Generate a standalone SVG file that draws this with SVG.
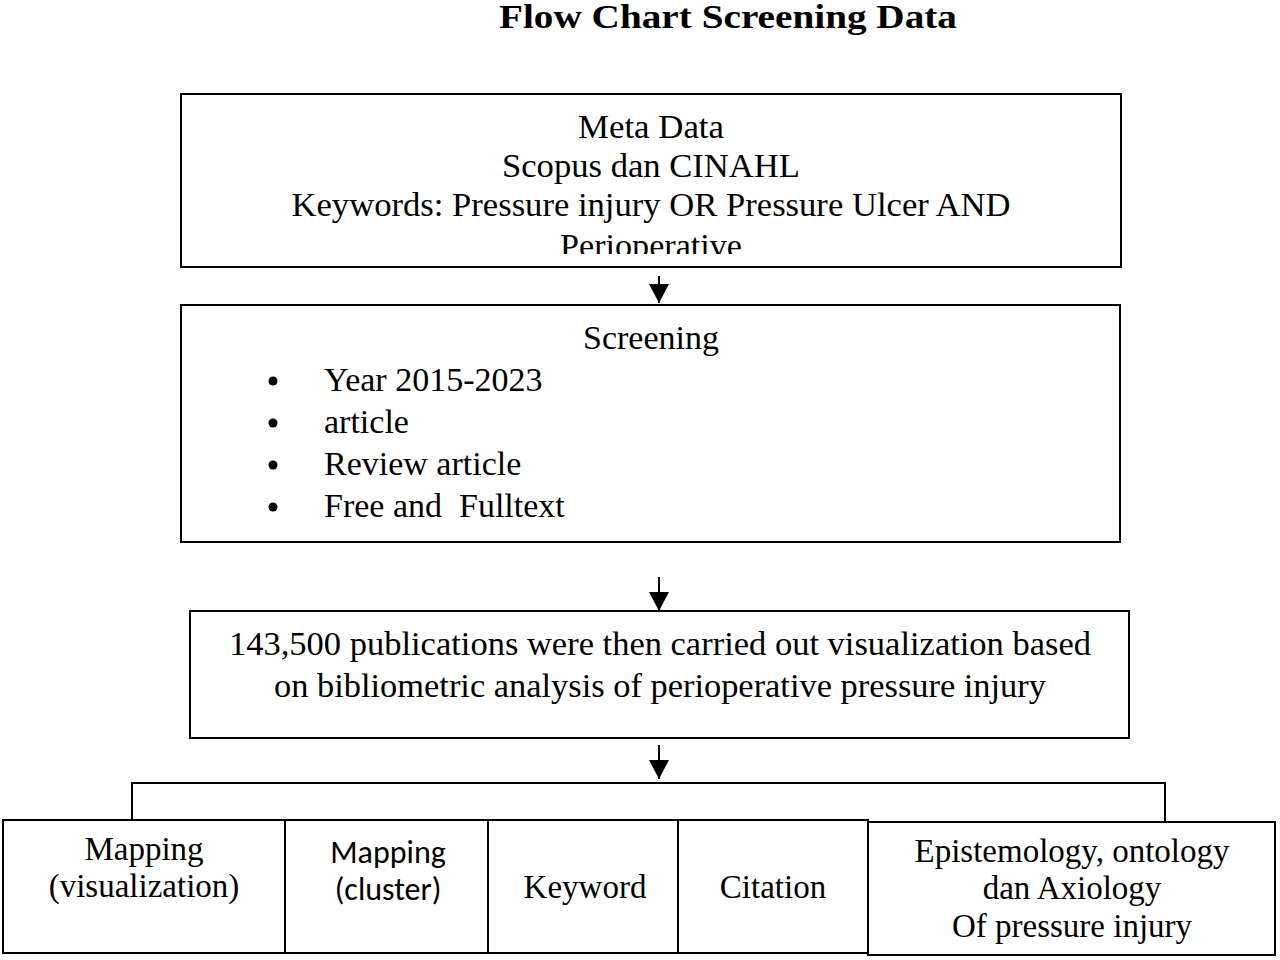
<svg xmlns="http://www.w3.org/2000/svg" width="1280" height="960" viewBox="0 0 1280 960">
<defs>
<style>
.box{fill:#fff;stroke:#000;stroke-width:2}
.t{font-family:"Liberation Serif","Times New Roman",serif;font-size:33px;fill:#000}
.m{font-size:34px}
.c{text-anchor:middle}
.s{font-family:Carlito,Calibri,"Liberation Sans",sans-serif;font-size:32px;fill:#000;text-anchor:middle}
.ln{stroke:#000;stroke-width:2;fill:none}
</style>
<marker id="ah" markerWidth="20" markerHeight="20" viewBox="0 0 20 20" refX="19" refY="10" orient="auto" markerUnits="userSpaceOnUse"><path d="M0,0 L19,10 L0,20 Z" fill="#000"/></marker>
<clipPath id="clip1"><rect x="182" y="95" width="938" height="159"/></clipPath>
</defs>
<rect width="1280" height="960" fill="#fff"/>
<text x="728" y="28" class="c" style="font-family:'Liberation Serif','Times New Roman',serif;font-size:34px;font-weight:bold" textLength="458" lengthAdjust="spacingAndGlyphs">Flow Chart Screening Data</text>

<g id="meta">
<rect class="box" x="181" y="94" width="940" height="173"/>
<g clip-path="url(#clip1)">
<text class="t c" x="651" y="138" textLength="146" lengthAdjust="spacingAndGlyphs">Meta Data</text>
<text class="t c" x="651" y="177" textLength="298" lengthAdjust="spacingAndGlyphs">Scopus dan CINAHL</text>
<text class="t c" x="651" y="216" textLength="719" lengthAdjust="spacingAndGlyphs">Keywords: Pressure injury OR Pressure Ulcer AND</text>
<text class="t c" x="651" y="257" textLength="182" lengthAdjust="spacingAndGlyphs">Perioperative</text>
</g>
</g>

<g id="screening">
<rect class="box" x="181" y="305" width="939" height="237"/>
<text class="t m c" x="651" y="349">Screening</text>
<circle cx="273" cy="381" r="4.5"/><text class="t m" x="324" y="391">Year 2015-2023</text>
<circle cx="273" cy="423" r="4.5"/><text class="t m" x="324" y="433">article</text>
<circle cx="273" cy="465" r="4.5"/><text class="t m" x="324" y="475">Review article</text>
<circle cx="273" cy="507" r="4.5"/><text class="t m" x="324" y="517" xml:space="preserve">Free and  Fulltext</text>
</g>

<g id="publications">
<rect class="box" x="190" y="611" width="939" height="127"/>
<text class="t c" x="660" y="655" textLength="862" lengthAdjust="spacingAndGlyphs">143,500 publications were then carried out visualization based</text>
<text class="t c" x="660" y="697" textLength="772" lengthAdjust="spacingAndGlyphs">on bibliometric analysis of perioperative pressure injury</text>
</g>

<g id="connectors">
<line class="ln" x1="659" y1="276" x2="659" y2="303" marker-end="url(#ah)"/>
<line class="ln" x1="659" y1="577" x2="659" y2="611" marker-end="url(#ah)"/>
<line class="ln" x1="659" y1="745" x2="659" y2="779" marker-end="url(#ah)"/>
<polyline class="ln" points="132,820 132,783 1165,783 1165,822"/>
</g>

<g id="mapping-vis">
<rect class="box" x="3" y="820" width="282" height="133"/>
<text class="t c" x="144" y="860">Mapping</text>
<text class="t c" x="144" y="897">(visualization)</text>
</g>
<g id="mapping-cluster">
<rect class="box" x="285" y="820" width="203" height="133"/>
<text class="s" x="388" y="863">Mapping</text>
<text class="s" x="388" y="900">(cluster)</text>
</g>
<g id="keyword">
<rect class="box" x="488" y="820" width="190" height="133"/>
<text class="t c" x="585" y="898">Keyword</text>
</g>
<g id="citation">
<rect class="box" x="678" y="820" width="190" height="133"/>
<text class="t c" x="773" y="898">Citation</text>
</g>
<g id="epistemology">
<rect class="box" x="868" y="822" width="407" height="133"/>
<text class="t c" x="1072" y="862">Epistemology, ontology</text>
<text class="t c" x="1072" y="899">dan Axiology</text>
<text class="t c" x="1072" y="937">Of pressure injury</text>
</g>
</svg>
